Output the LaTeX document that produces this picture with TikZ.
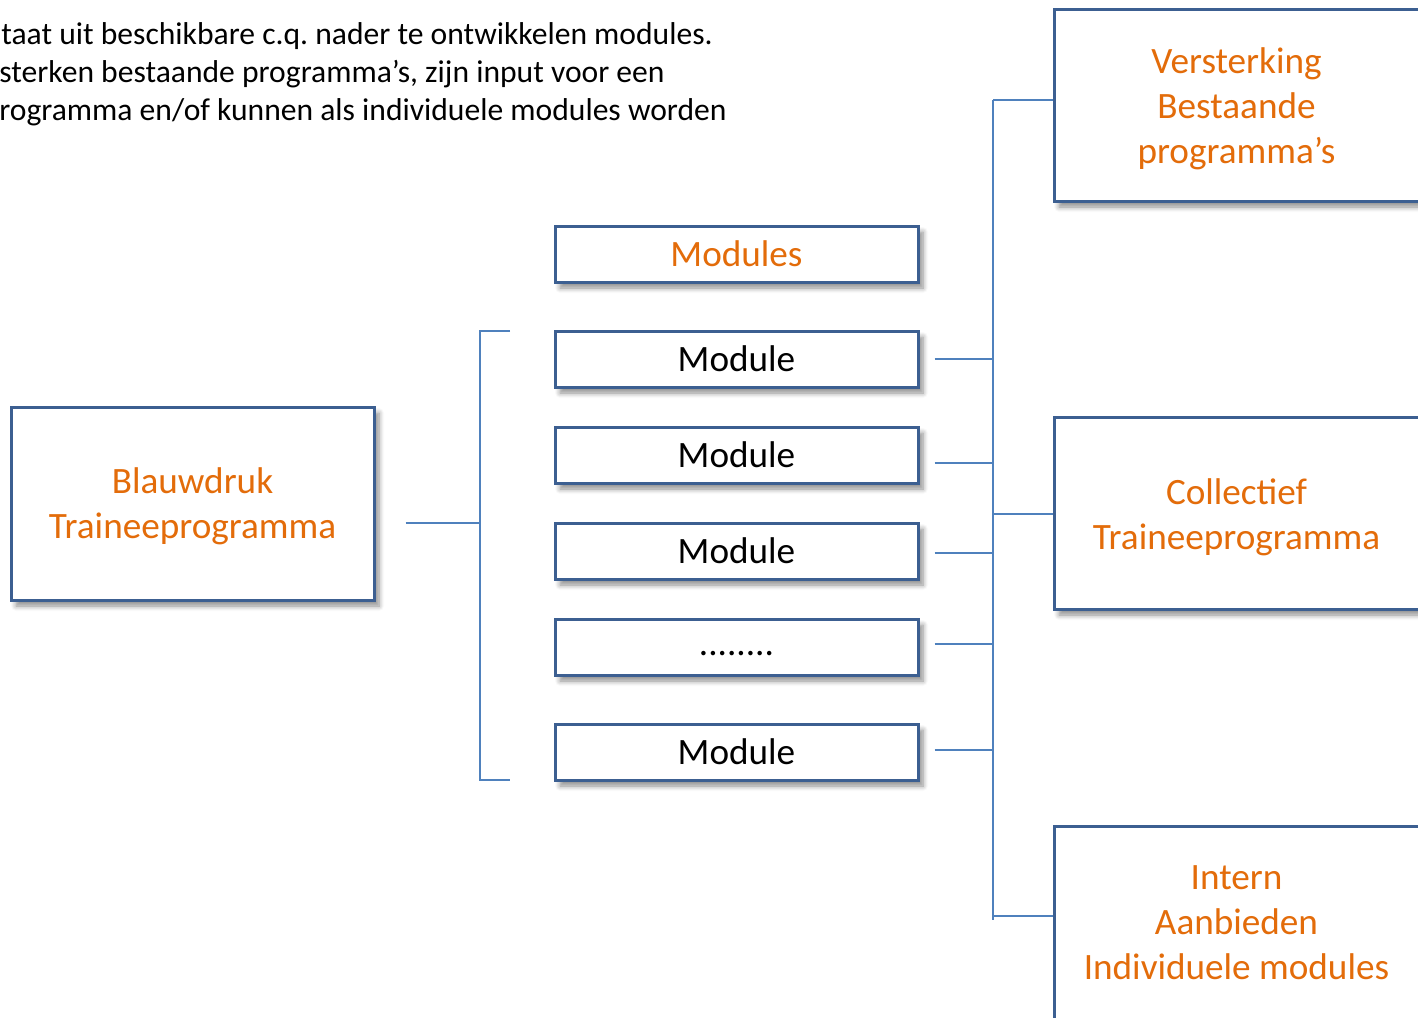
\documentclass[tikz,border=0pt]{standalone}
\usepackage{fontspec}
\setmainfont{Carlito}
\usetikzlibrary{shadows.blur}
\definecolor{boxblue}{HTML}{3C5F91}
\definecolor{lineblue}{HTML}{4F81BD}
\definecolor{orangetxt}{HTML}{E36C0A}
\frenchspacing
\newcommand\lowertext[2]{\raisebox{-#1}[\height][\depth]{\begin{tabular}{@{}c@{}}#2\end{tabular}}}
\tikzset{
  shad/.style={blur shadow={shadow xshift=2.5pt, shadow yshift=-3pt, shadow blur steps=6, shadow blur radius=2.5pt, shadow opacity=45}},
  bigbox/.style={draw=boxblue, line width=1.5pt, fill=white, shad, minimum width=181.5pt, text=orangetxt, inner sep=0pt, font=\fontsize{18.6}{22.5}\selectfont},
  modbox/.style={draw=boxblue, line width=1.5pt, fill=white, shad, minimum width=181.5pt, minimum height=28pt, inner sep=0pt, font=\fontsize{18.6}{20}\selectfont},
  conn/.style={draw=lineblue, line width=0.8pt},
  toptxt/.style={anchor=west, inner sep=0pt, font=\fontsize{15.8}{19}\selectfont}
}
\begin{document}
\begin{tikzpicture}[x=0.5pt, y=-0.5pt]
\path[use as bounding box] (0,0) rectangle (1418,1017);
\clip (0,0) rectangle (1418,1017);
% top text
\node[toptxt] (t1) at (1,36) {taat uit beschikbare c.q. nader te ontwikkelen modules.};
\node[toptxt] (t2) at (-1,74) {sterken bestaande programma’s, zijn input voor een};
\node[toptxt] (t3) at (-1,112) {rogramma en/of kunnen als individuele modules worden};
% left box
\node[bigbox, minimum height=96.5pt] (blau) at (192.5,503.5) {\lowertext{1.5pt}{Blauwdruk\\Traineeprogramma}};
% module boxes
\node[modbox, text=orangetxt] (mods) at (736.5,254) {Modules};
\node[modbox] (m1) at (736.5,359) {Module};
\node[modbox] (m2) at (736.5,455) {Module};
\node[modbox] (m3) at (736.5,551) {Module};
\node[modbox] (m4) at (736.5,647) {\strut........};
\node[modbox] (m5) at (736.5,752) {Module};
% right boxes
\node[bigbox, minimum width=182.5pt, minimum height=96pt] (vers) at (1236.5,105) {\lowertext{2pt}{Versterking\\Bestaande\\programma’s}};
\node[bigbox, minimum width=182.5pt, minimum height=96pt] (coll) at (1236.5,513) {\lowertext{2.5pt}{Collectief\\Traineeprogramma}};
\node[bigbox, minimum width=182.5pt, minimum height=96.5pt] (intern) at (1236.5,922.5) {\lowertext{1.5pt}{Intern\\Aanbieden\\Individuele modules}};
% left bracket
\coordinate (bj) at (480,523);
\coordinate (btop) at (480,331);
\coordinate (bbot) at (480,780);
\coordinate (btopend) at (510,331);
\coordinate (bbotend) at (510,780);
\draw[conn] ([xshift=15pt]blau.east |- bj) -- (bj);
\draw[conn] (btopend) -- (btop) -- (bbot) -- (bbotend);
% right trunk
\coordinate (rtop) at (993,100);
\coordinate (rbot) at (993,920);
\draw[conn] (rtop) -- (rbot);
\coordinate (s1) at (993,359);
\coordinate (s2) at (993,463);
\coordinate (s3) at (993,553);
\coordinate (s4) at (993,644);
\coordinate (s5) at (993,750);
\draw[conn] ([xshift=7.5pt]m1.east |- s1) -- (s1);
\draw[conn] ([xshift=7.5pt]m2.east |- s2) -- (s2);
\draw[conn] ([xshift=7.5pt]m3.east |- s3) -- (s3);
\draw[conn] ([xshift=7.5pt]m4.east |- s4) -- (s4);
\draw[conn] ([xshift=7.5pt]m5.east |- s5) -- (s5);
\coordinate (r1) at (993,100);
\coordinate (r2) at (993,514);
\coordinate (r3) at (993,916);
\draw[conn] (r1) -- (vers.west |- r1);
\draw[conn] (r2) -- (coll.west |- r2);
\draw[conn] (r3) -- (intern.west |- r3);
\end{tikzpicture}
\end{document}
